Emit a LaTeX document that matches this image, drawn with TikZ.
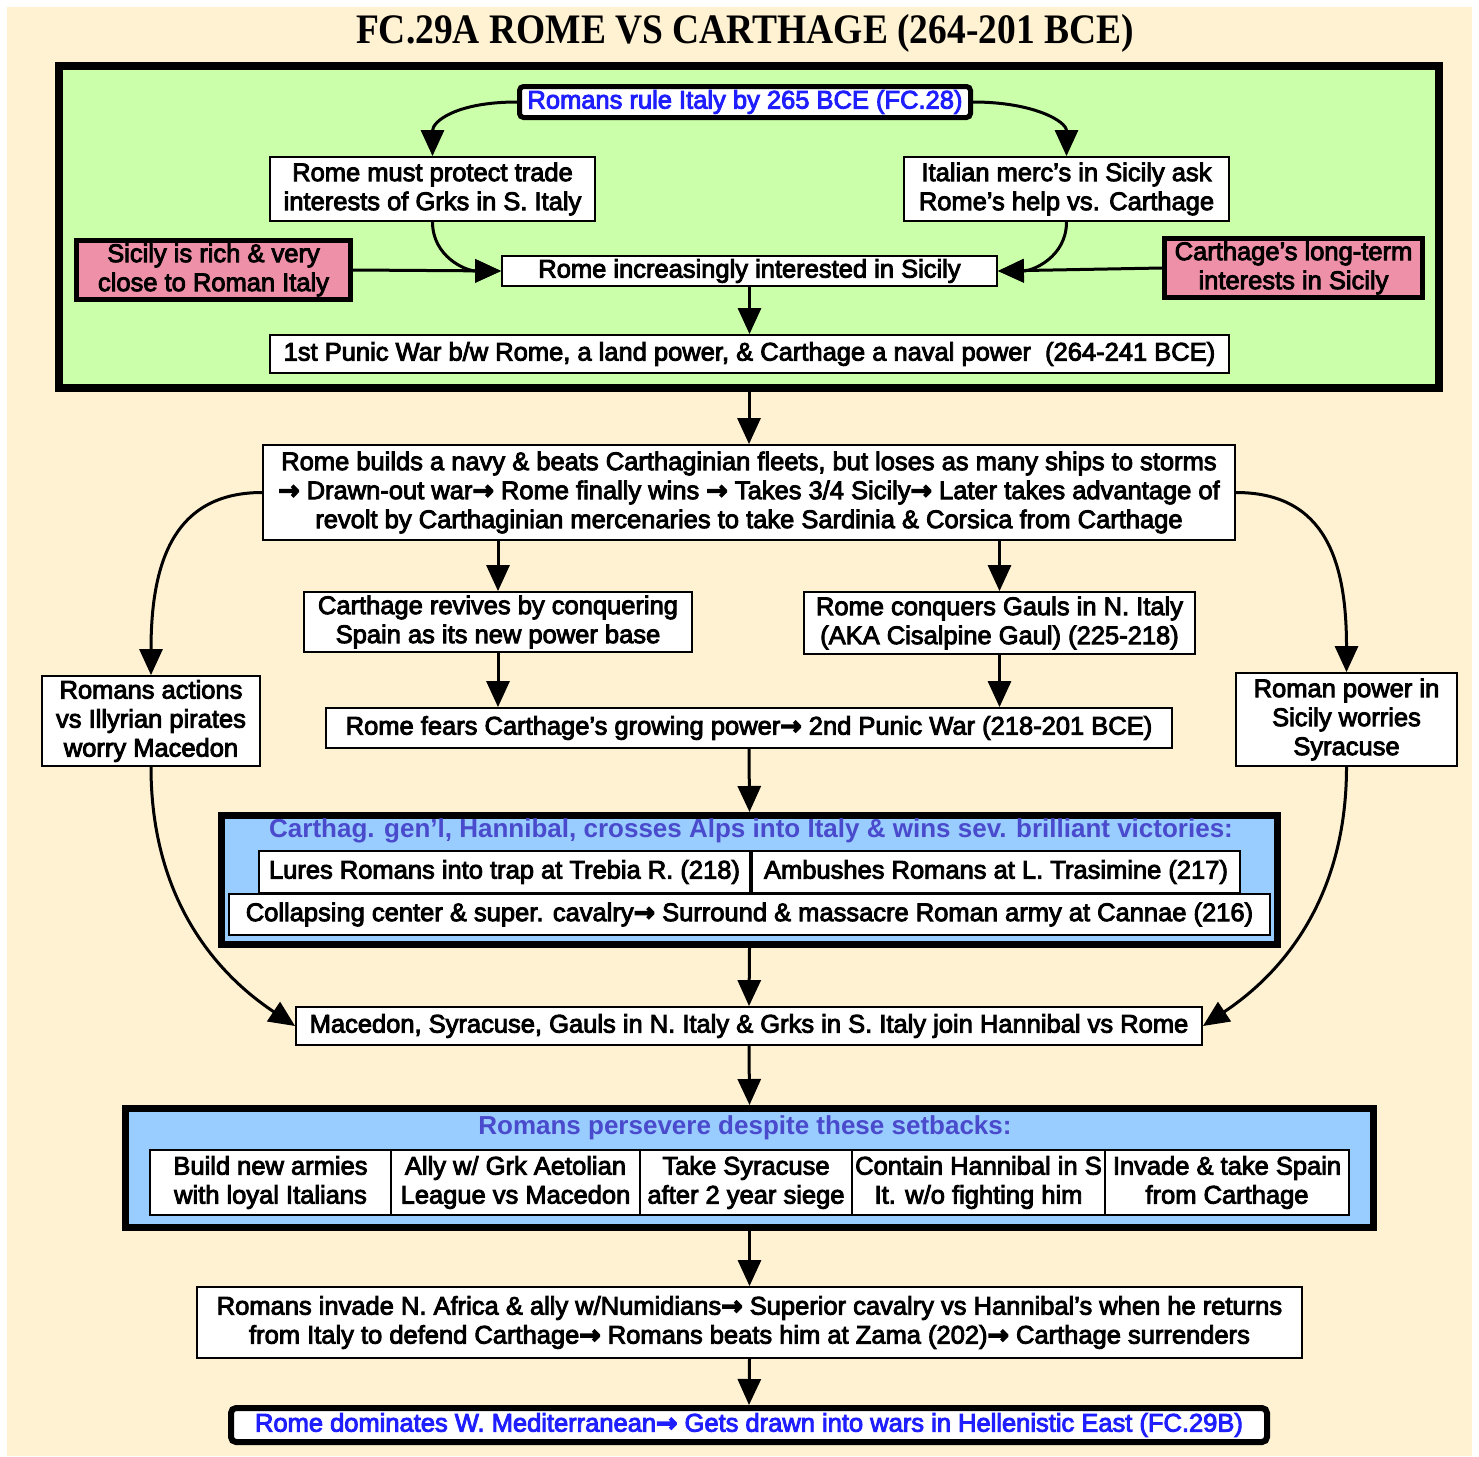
\documentclass[tikz,border=0pt]{standalone}
\usepackage{fontspec}
\usetikzlibrary{arrows.meta}
\newfontfamily\bx{Liberation Sans}[RawFeature={embolden=3.5}]
\newfontfamily\gtfont{Liberation Sans}
\newfontfamily\ttlfont{Liberation Serif}
\newfontfamily\arrfont{DejaVu Sans}[RawFeature={embolden=5}]
\newcommand\myarr{{\arrfont\bfseries →}}
\newcommand\boxfont{\bx\fontsize{25.5}{29}\selectfont}
\definecolor{cream}{HTML}{FFF2D3}
\definecolor{lgreen}{HTML}{CCFFAA}
\definecolor{lblue}{HTML}{99CCFF}
\definecolor{pink}{HTML}{EF90A9}
\definecolor{slateb}{HTML}{4A4ACC}
\definecolor{brightb}{HTML}{1E1EFF}
\tikzset{
  box/.style={draw=black, line width=1.8pt, fill=white, inner sep=0pt, align=center, font=\boxfont, text=black},
  thickbox/.style={box, line width=5pt},
  group/.style={draw=black, fill=lblue, inner sep=0pt},
  arr/.style={line width=3pt, -{Triangle[length=26pt,width=23pt]}},
  grptitle/.style={font={\gtfont\bfseries\fontsize{26}{29}\selectfont}, text=slateb, inner sep=0pt},
}
\begin{document}
\begin{tikzpicture}[x=1pt,y=-1pt]
\useasboundingbox (0,0) rectangle (1479,1456);
\fill[white] (0,0) rectangle (1479,1456);
\fill[cream] (7,7) rectangle (1472,1456);

\node[font={\ttlfont\bfseries\fontsize{37.5}{40}\selectfont}, inner sep=0pt, yscale=1.12] (title) at (745,33) {FC.29A ROME VS CARTHAGE (264-201 BCE)};

% green group
\node[draw=black, fill=lgreen, line width=8pt, inner sep=0pt, minimum width=1380pt, minimum height=322pt] (green) at (749,227) {};

\node[box, line width=5pt, rounded corners=4pt, text=brightb, minimum width=451pt, minimum height=31pt] (top) at (745,102) {Romans rule Italy by 265 BCE (FC.28)};
\node[box, minimum width=325pt, minimum height=64pt] (protect) at (432.5,189) {Rome must protect trade\\interests of Grks in S. Italy};
\node[box, minimum width=325pt, minimum height=64pt] (italian) at (1066.5,189) {Italian merc’s in Sicily ask\\Rome’s help vs. Carthage};
\node[thickbox, fill=pink, minimum width=274pt, minimum height=59pt] (sicily) at (213.5,270) {Sicily is rich \& very\\close to Roman Italy};
\node[thickbox, fill=pink, minimum width=258pt, minimum height=59pt] (carth) at (1293.5,268) {Carthage’s long-term\\interests in Sicily};
\node[box, minimum width=495pt, minimum height=30pt] (incr) at (749.5,271) {Rome increasingly interested in Sicily};
\node[box, minimum width=959pt, minimum height=38pt] (punic) at (749.5,354) {1st Punic War b/w Rome, a land power, \& Carthage a naval power\ \ (264-241 BCE)};

% middle
\node[box, minimum width=972pt, minimum height=95pt] (navy) at (749,492.5) {Rome builds a navy \& beats Carthaginian fleets, but loses as many ships to storms\\\myarr\ Drawn-out war\myarr\ Rome finally wins \myarr\ Takes 3/4 Sicily\myarr\ Later takes advantage of\\revolt by Carthaginian mercenaries to take Sardinia \& Corsica from Carthage};
\node[box, minimum width=388pt, minimum height=60pt] (revive) at (498,622) {Carthage revives by conquering\\Spain as its new power base};
\node[box, minimum width=391pt, minimum height=62pt] (gauls) at (999.5,623) {Rome conquers Gauls in N. Italy\\(AKA Cisalpine Gaul) (225-218)};
\node[box, minimum width=846pt, minimum height=40pt] (fears) at (749,728) {Rome fears Carthage’s growing power\myarr\ 2nd Punic War (218-201 BCE)};
\node[box, minimum width=218pt, minimum height=90pt] (illyr) at (151,721) {Romans actions\\vs Illyrian pirates\\worry Macedon};
\node[box, minimum width=221pt, minimum height=93pt] (syrac) at (1346.5,719.5) {Roman power in\\Sicily worries\\Syracuse};

% Hannibal group
\node[group, line width=7pt, minimum width=1056pt, minimum height=129pt] (hann) at (749.5,880) {};
\node[grptitle] (htitle) at (751,831) {Carthag. gen’l, Hannibal, crosses Alps into Italy \& wins sev. brilliant victories:};
\node[box, minimum width=491pt, minimum height=42pt] (trebia) at (504.5,872) {Lures Romans into trap at Trebia R. (218)};
\node[box, minimum width=488pt, minimum height=42pt] (trasi) at (996,872) {Ambushes Romans at L. Trasimine (217)};
\node[box, minimum width=1041pt, minimum height=41pt] (cannae) at (749.5,914.5) {Collapsing center \& super. cavalry\myarr\ Surround \& massacre Roman army at Cannae (216)};

\node[box, minimum width=906pt, minimum height=38pt] (join) at (749,1026) {Macedon, Syracuse, Gauls in N. Italy \& Grks in S. Italy join Hannibal vs Rome};

% Persevere group
\node[group, line width=7pt, minimum width=1248pt, minimum height=119pt] (persev) at (749.5,1168) {};
\node[grptitle] (ptitle) at (745,1128) {Romans persevere despite these setbacks:};
\node[box, minimum width=241pt, minimum height=65pt] (c1) at (270.5,1182.5) {Build new armies\\with loyal Italians};
\node[box, minimum width=249pt, minimum height=65pt] (c2) at (515.5,1182.5) {Ally w/ Grk Aetolian\\League vs Macedon};
\node[box, minimum width=212pt, minimum height=65pt] (c3) at (746,1182.5) {Take Syracuse\\after 2 year siege};
\node[box, minimum width=253pt, minimum height=65pt] (c4) at (978.5,1182.5) {Contain Hannibal in S\\It. w/o fighting him};
\node[box, minimum width=244pt, minimum height=65pt] (c5) at (1227,1182.5) {Invade \& take Spain\\from Carthage};

\node[box, minimum width=1105pt, minimum height=71pt] (africa) at (749.5,1322.5) {Romans invade N. Africa \& ally w/Numidians\myarr\ Superior cavalry vs Hannibal’s when he returns\\from Italy to defend Carthage\myarr\ Romans beats him at Zama (202)\myarr\ Carthage surrenders};
\node[box, line width=6pt, rounded corners=5pt, text=brightb, minimum width=1036pt, minimum height=34pt] (final) at (749,1425) {Rome dominates W. Mediterranean\myarr\ Gets drawn into wars in Hellenistic East (FC.29B)};

% connectors
\draw[arr] (top.west) .. controls +(-60,0) and +(0,-35) .. (protect.north);
\draw[arr] (top.east) .. controls +(60,0) and +(0,-35) .. (italian.north);
\draw[arr] (protect.south) .. controls +(0,35) and +(-35,0) .. (incr.west);
\draw[arr] (italian.south) .. controls +(0,35) and +(35,0) .. (incr.east);
\draw[arr] (sicily.east) -- (incr.west);
\draw[arr] (carth.west) -- (incr.east);
\draw[arr] (incr.south) -- (punic.north);
\draw[arr] (green.south) -- (navy.north);
\draw[arr] (navy.west) .. controls +(-90,0) and +(0,-110) .. (illyr.north);
\draw[arr] (navy.east) .. controls +(90,0) and +(0,-110) .. (syrac.north);
\draw[arr] (navy.south -| revive.north) -- (revive.north);
\draw[arr] (navy.south -| gauls.north) -- (gauls.north);
\draw[arr] (revive.south) -- (revive.south |- fears.north);
\draw[arr] (gauls.south) -- (gauls.south |- fears.north);
\draw[arr] (fears.south) -- (hann.north);
\draw[arr] (hann.south) -- (join.north);
\draw[arr] (illyr.south) .. controls +(0,150) and +(-60,-40) .. (join.west);
\draw[arr] (syrac.south) .. controls +(0,150) and +(60,-40) .. (join.east);
\draw[arr] (join.south) -- (persev.north);
\draw[arr] (persev.south) -- (africa.north);
\draw[arr] (africa.south) -- (final.north);
\end{tikzpicture}
\end{document}
